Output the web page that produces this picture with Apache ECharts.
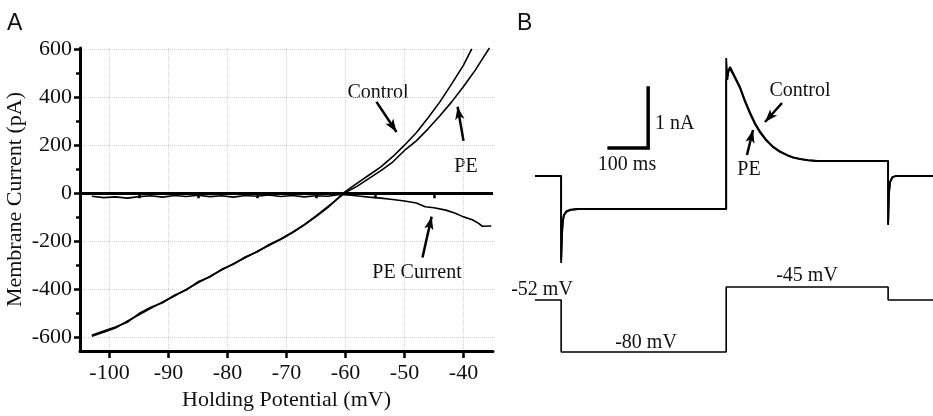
<!DOCTYPE html>
<html>
<head>
<meta charset="utf-8">
<script src="https://cdn.jsdelivr.net/npm/echarts@6/dist/echarts.min.js"></script>
<style>
  html, body { margin: 0; padding: 0; background: #fff; }
  #main { width: 933px; height: 416px; }
</style>
</head>
<body>
<div id="main"></div>
<script>
// panel A: I-V curves (mV, pA)
var xTicks = [-100, -90, -80, -70, -60, -50, -40];
var xMinorTicks = [-95, -85, -75, -65, -55, -45];
var yTicks = [-600, -400, -200, 0, 200, 400, 600];
var yMinorTicks = [-500, -300, -100, 100, 300, 500];

var controlIV = [[-103, -594], [-101, -578], [-99, -560], [-97, -532], [-95, -505], [-93, -478],
  [-91, -452], [-89, -427], [-87, -400], [-85, -372], [-83, -346], [-81, -319], [-79, -293],
  [-77, -268], [-75, -242], [-73, -217], [-71, -192], [-69, -164], [-67, -132], [-65, -97],
  [-63, -60], [-61, -14], [-60, 8], [-58, 42], [-56, 76], [-54, 110], [-52, 152], [-50, 200],
  [-48, 252], [-46, 314], [-44, 380], [-42, 455], [-40, 533], [-38.6, 600]];
var peIV = [[-103, -590], [-101, -572], [-99, -556], [-97, -536], [-95, -500], [-93, -474],
  [-91, -455], [-89, -424], [-87, -402], [-85, -368], [-83, -348], [-81, -316], [-79, -295],
  [-77, -265], [-75, -244], [-73, -214], [-71, -190], [-69, -162], [-67, -130], [-65, -94],
  [-63, -55], [-61, -16], [-60, 3], [-58, 30], [-56, 62], [-54, 94], [-52, 130], [-50, 178],
  [-48, 218], [-46, 268], [-44, 322], [-42, 380], [-40, 444], [-38, 512], [-36.5, 570], [-35.6, 604]];
var peCurrentIV = [[-103, -12], [-101, -18], [-99, -15], [-97, -20], [-95, -14], [-93, -10],
  [-91, -16], [-89, -9], [-87, -13], [-85, -8], [-83, -14], [-81, -10], [-79, -16], [-77, -9],
  [-75, -12], [-73, -7], [-71, -13], [-69, -9], [-67, -15], [-65, -10], [-63, -12], [-61, -5],
  [-59, -8], [-57.5, -12], [-56, -16], [-54, -20], [-52, -26], [-50, -32], [-48, -40],
  [-46.5, -56], [-45, -60], [-43, -70], [-41.5, -82], [-40, -98], [-38.5, -110], [-37.5, -124],
  [-36.8, -137], [-35.3, -136]];

// panel B: current (nA) and voltage (mV) vs time (ms)
var controlTrace = [[0, 0], [67, 0], [67, -1.45], [69, -1.0], [71, -0.78], [74, -0.66], [80, -0.6],
  [90, -0.57], [110, -0.55], [490, -0.55], [490, 1.967], [493, 1.6], [496, 1.76], [500, 1.817],
  [512, 1.66], [525, 1.49], [538, 1.26], [551, 1.06], [564, 0.88], [577, 0.74], [593, 0.6],
  [610, 0.49], [628, 0.41], [646, 0.35], [662, 0.31], [679, 0.285], [700, 0.265], [723, 0.25],
  [905, 0.25], [905, -0.817], [907, -0.3], [910, -0.1], [916, -0.02], [925, 0], [1020, 0]];
var peTrace = [[0, 0], [67, 0], [67, -1.4], [69, -0.98], [71, -0.77], [74, -0.65], [80, -0.59],
  [90, -0.56], [110, -0.55], [490, -0.55], [490, 1.6], [494, 1.7], [499, 1.8], [512, 1.64],
  [525, 1.47], [538, 1.24], [551, 1.04], [564, 0.86], [577, 0.72], [593, 0.59], [610, 0.48],
  [628, 0.4], [646, 0.345], [662, 0.305], [679, 0.28], [700, 0.26], [723, 0.25], [905, 0.25],
  [905, -0.8], [907, -0.29], [910, -0.1], [916, -0.02], [925, 0], [1020, 0]];
var voltageSteps = [[0, -52], [67, -52], [67, -80], [490, -80], [490, -45], [905, -45],
  [905, -52], [1020, -52]];
var scaleBar = [[190, 0.467], [290, 0.467], [290, 1.467]];

var serif = 'Liberation Serif';
var myChart = echarts.init(document.getElementById('main'));

function arrow(from, to) {
  return [{ coord: from }, { coord: to }];
}

var arrowStyle = {
  silent: true,
  symbol: ['none', 'arrow'],
  symbolSize: [7, 13],
  lineStyle: { color: '#000', width: 2.5, type: 'solid' },
  label: { show: false }
};

function txt(text, x, y, align) {
  return {
    type: 'text', x: x, y: y,
    style: {
      text: text, fill: '#111', font: '20px "' + serif + '"',
      align: align || 'center', verticalAlign: 'middle'
    }
  };
}

var option = {
  backgroundColor: '#fff',
  animation: false,
  grid: [
    { left: 80, top: 48, width: 413, height: 312 },
    { left: 535, top: 26, width: 398, height: 360 }
  ],
  xAxis: [
    {
      gridIndex: 0, type: 'value', min: -105, max: -35, position: 'bottom',
      name: 'Holding Potential (mV)', nameLocation: 'middle', nameGap: 36,
      nameTextStyle: { fontFamily: serif, fontSize: 22, color: '#111' },
      axisLine: { onZero: false, lineStyle: { color: '#000', width: 3 } },
      axisTick: { customValues: xTicks, length: 7, lineStyle: { color: '#000', width: 2.5 } },
      axisLabel: { customValues: xTicks, fontFamily: serif, fontSize: 22, color: '#111', margin: 11 },
      splitLine: { show: true, lineStyle: { color: '#d4d4d4', type: 'dotted', width: 1 } }
    },
    {
      gridIndex: 0, type: 'value', min: -105, max: -35, position: 'bottom',
      axisLine: { show: false },
      axisTick: { customValues: xMinorTicks, length: 5, lineStyle: { color: '#000', width: 2.5 } },
      axisLabel: { show: false },
      splitLine: { show: false }
    },
    { gridIndex: 1, type: 'value', min: 0, max: 1020, show: false }
  ],
  yAxis: [
    {
      gridIndex: 0, type: 'value', min: -656, max: 604,
      name: 'Membrane Current (pA)', nameLocation: 'middle', nameGap: 54,
      nameTextStyle: { fontFamily: serif, fontSize: 22, color: '#111' },
      axisLine: { show: true, onZero: false, lineStyle: { color: '#000', width: 3 } },
      axisTick: { show: true, customValues: yTicks, length: 6, lineStyle: { color: '#000', width: 2.5 } },
      axisLabel: { customValues: yTicks, fontFamily: serif, fontSize: 22, color: '#111', margin: 8 },
      splitLine: { show: true, lineStyle: { color: '#d4d4d4', type: 'dotted', width: 1 } }
    },
    {
      gridIndex: 0, type: 'value', min: -656, max: 604, position: 'left',
      axisLine: { show: false },
      axisTick: { show: true, customValues: yMinorTicks, length: 4, lineStyle: { color: '#000', width: 2.5 } },
      axisLabel: { show: false },
      splitLine: { show: false }
    },
    { gridIndex: 1, type: 'value', min: -3.5, max: 2.5, show: false },
    { gridIndex: 1, type: 'value', min: -98.3, max: 95.5, show: false }
  ],
  series: [
    {
      name: 'Control', type: 'line', xAxisIndex: 0, yAxisIndex: 0, data: controlIV,
      showSymbol: false, smooth: false, lineStyle: { color: '#000', width: 1.6 },
      markLine: Object.assign({ data: [arrow([-54.75, 380], [-51.35, 255])] }, arrowStyle)
    },
    {
      name: 'PE', type: 'line', xAxisIndex: 0, yAxisIndex: 0, data: peIV,
      showSymbol: false, lineStyle: { color: '#000', width: 1.6 },
      markLine: Object.assign({ data: [arrow([-40.0, 218], [-41.0, 360])] }, arrowStyle)
    },
    {
      name: 'PE Current', type: 'line', xAxisIndex: 0, yAxisIndex: 0, data: peCurrentIV,
      showSymbol: false, lineStyle: { color: '#000', width: 1.6 },
      markLine: Object.assign({ data: [arrow([-46.95, -267], [-45.4, -97])] }, arrowStyle)
    },
    {
      name: 'zero', type: 'line', xAxisIndex: 0, yAxisIndex: 0, data: [],
      markLine: {
        silent: true, symbol: ['none', 'none'], label: { show: false },
        lineStyle: { color: '#000', width: 3, type: 'solid' },
        data: [{ yAxis: 0 }]
      }
    },
    {
      name: 'Control trace', type: 'line', xAxisIndex: 2, yAxisIndex: 2, data: controlTrace,
      showSymbol: false, lineStyle: { color: '#000', width: 1.8 },
      markLine: Object.assign({ data: [arrow([633, 1.217], [589.5, 0.9])] }, arrowStyle)
    },
    {
      name: 'PE trace', type: 'line', xAxisIndex: 2, yAxisIndex: 2, data: peTrace,
      showSymbol: false, lineStyle: { color: '#000', width: 1.8 },
      markLine: Object.assign({ data: [arrow([543.3, 0.35], [558.7, 0.767])] }, arrowStyle)
    },
    {
      name: 'Voltage', type: 'line', xAxisIndex: 2, yAxisIndex: 3, data: voltageSteps,
      showSymbol: false, lineStyle: { color: '#000', width: 1.6 }
    },
    {
      name: 'Scale bar', type: 'line', xAxisIndex: 2, yAxisIndex: 2, data: scaleBar,
      showSymbol: false, lineStyle: { color: '#000', width: 3.5, cap: 'square', join: 'miter' }
    }
  ],
  graphic: [
    { type: 'text', left: 7, top: 12, style: { text: 'A', fill: '#111', font: '23px "Liberation Sans"' } },
    { type: 'text', left: 517, top: 12, style: { text: 'B', fill: '#111', font: '23px "Liberation Sans"' } },
    txt('Control', 378, 93),
    txt('PE', 466, 167),
    txt('PE Current', 417, 273),
    txt('Control', 800, 91),
    txt('PE', 749, 170),
    txt('1 nA', 655, 124, 'left'),
    txt('100 ms', 627, 165),
    txt('-52 mV', 542, 290),
    txt('-80 mV', 646, 343),
    txt('-45 mV', 807, 276)
  ]
};

myChart.setOption(option);
</script>
</body>
</html>
